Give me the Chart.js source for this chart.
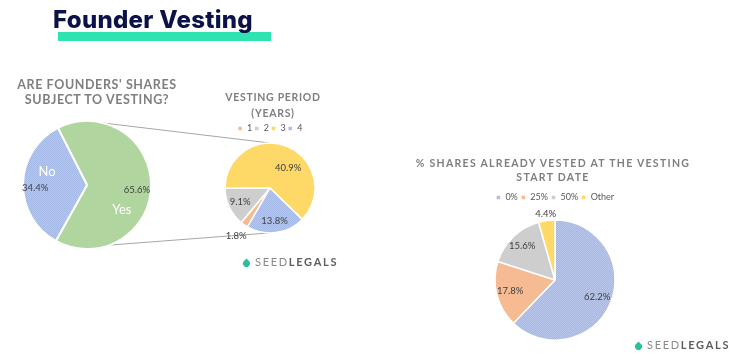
<!DOCTYPE html>
<html>
<head>
<meta charset="utf-8">
<script src="https://cdn.jsdelivr.net/npm/chart.js@4"></script>
<style>
  html, body { margin: 0; padding: 0; background: #fff; }
  #page { position: relative; width: 744px; height: 364px; overflow: hidden; font-family: Lato, "Open Sans", sans-serif; }
  canvas { position: absolute; }
  .bar { position: absolute; left: 58px; top: 32px; width: 213px; height: 9px; background: #2fe3b1; }
  .heading { position: absolute; left: 53px; top: 8px; font: 800 24px/24px Inter, sans-serif; color: #0c1248; letter-spacing: 0.3px; white-space: nowrap; }
  .ttl { position: absolute; text-align: center; font-weight: 700; color: #7f7f7f; white-space: nowrap; }
  .logo { position: absolute; font: 11px/12px Lato, sans-serif; letter-spacing: 1.7px; color: #8a8a8a; white-space: nowrap; }
  .logo b { color: #5e5e5e; font-weight: 700; }
  .drop { display: inline-block; width: 7px; height: 7px; background: #2bbf9c; border-radius: 0 50% 50% 50%; transform: rotate(45deg); margin-right: 5px; vertical-align: -1px; }
</style>
</head>
<body>
<div id="page">
  <canvas id="links" width="744" height="364" style="left:0;top:0"></canvas>
  <div class="bar"></div>
  <div class="heading">Founder Vesting</div>

  <div class="ttl" style="left:0;top:77px;width:194px;font-size:12.5px;line-height:15px;letter-spacing:0.6px">ARE FOUNDERS' SHARES<br>SUBJECT TO VESTING?</div>
  <div class="ttl" style="left:193px;top:89px;width:160px;font-size:10.5px;line-height:16px;letter-spacing:0.7px">VESTING PERIOD<br>(YEARS)</div>
  <div class="ttl" style="left:393px;top:156px;width:320px;font-size:10.5px;line-height:14px;letter-spacing:1.3px">% SHARES ALREADY VESTED AT THE VESTING<br>START DATE</div>

  <canvas id="subjectChart" width="160" height="150" style="left:7px;top:110px"></canvas>
  <canvas id="periodChart" width="150" height="150" style="left:195px;top:122px"></canvas>
  <canvas id="vestedChart" width="250" height="170" style="left:430px;top:190px"></canvas>

  <div class="logo" style="left:243px;top:256px"><span class="drop"></span>SEED<b>LEGALS</b></div>
  <div class="logo" style="left:635px;top:339px"><span class="drop"></span>SEED<b>LEGALS</b></div>
</div>
<script>
const subjectLabels = ['Yes', 'No'];
const subjectValues = [65.6, 34.4];

const periodLabels = ['1', '2', '3', '4'];
const periodValues = [1.8, 9.1, 40.9, 13.8];

const vestedLabels = ['0%', '25%', '50%', 'Other'];
const vestedValues = [62.2, 17.8, 15.6, 4.4];

// excel style dotted fill
function checker(a, b) {
  const c = document.createElement('canvas');
  c.width = c.height = 2;
  const g = c.getContext('2d');
  g.fillStyle = a; g.fillRect(0, 0, 2, 2);
  g.fillStyle = b; g.fillRect(0, 0, 1, 1); g.fillRect(1, 1, 1, 1);
  return g.createPattern(c, 'repeat');
}
const blue = checker('#a2b7e3', '#b9c8ec');
const orange = '#f6bb92';
const grey = '#cecece';
const yellow = '#ffd967';
const green = '#b0d59e';

const pieLabels = {
  id: 'pieLabels',
  afterDatasetsDraw(chart, args, opts) {
    const ctx = chart.ctx;
    const meta = chart.getDatasetMeta(0);
    const values = chart.data.datasets[0].data;
    ctx.save();
    ctx.textAlign = 'center';
    ctx.textBaseline = 'middle';
    meta.data.forEach((arc, i) => {
      const p = arc.getProps(['x', 'y', 'startAngle', 'endAngle', 'outerRadius'], true);
      const mid = (p.startAngle + p.endAngle) / 2;
      const nudge = (opts.nudge && opts.nudge[i]) || [0, 0];
      const lx = p.x + Math.cos(mid) * p.outerRadius * opts.dist[i] + nudge[0];
      const ly = p.y + Math.sin(mid) * p.outerRadius * opts.dist[i] + nudge[1];
      ctx.font = '9.5px Lato, sans-serif';
      ctx.fillStyle = '#404040';
      ctx.fillText(values[i].toFixed(1) + '%', lx, ly);
      if (opts.names) {
        ctx.font = '13px Lato, sans-serif';
        ctx.fillStyle = '#ffffff';
        ctx.fillText(chart.data.labels[i], lx + opts.names[i][0], ly + opts.names[i][1]);
      }
    });
    ctx.restore();
  }
};

function legendOpts(pad) {
  return {
    display: true,
    position: 'top',
    labels: {
      boxWidth: 5, boxHeight: 5, padding: pad,
      color: '#595959',
      font: { size: 9, family: 'Lato, sans-serif' }
    }
  };
}

const common = {
  responsive: false,
  animation: false,
  events: [],
  hoverOffset: 0
};

const subjectChart = new Chart(document.getElementById('subjectChart'), {
  type: 'pie',
  data: {
    labels: subjectLabels,
    datasets: [{ data: subjectValues, backgroundColor: [green, blue], borderColor: '#fff', borderWidth: 2 }]
  },
  options: Object.assign({}, common, {
    rotation: -27,
    radius: 64,
    plugins: {
      legend: { display: false },
      tooltip: { enabled: false },
      pieLabels: { dist: [0.78, 0.81], nudge: [[0, 4], [0, 4]], names: [[-15, 20], [12, -16]] }
    }
  }),
  plugins: [pieLabels]
});

const periodChart = new Chart(document.getElementById('periodChart'), {
  type: 'pie',
  data: {
    labels: periodLabels,
    datasets: [{ data: periodValues, backgroundColor: [orange, grey, yellow, blue], borderColor: '#fff', borderWidth: 1.5 }]
  },
  options: Object.assign({}, common, {
    rotation: 210,
    radius: 45,
    layout: { padding: { bottom: 39 } },
    plugins: {
      legend: legendOpts(2),
      tooltip: { enabled: false },
      pieLabels: { dist: [1.31, 0.73, 0.6, 0.74], nudge: [[0, 0], [0, 0], [8, 5], [0, 0]] }
    }
  }),
  plugins: [pieLabels]
});

const vestedChart = new Chart(document.getElementById('vestedChart'), {
  type: 'pie',
  data: {
    labels: vestedLabels,
    datasets: [{ data: vestedValues, backgroundColor: [blue, orange, grey, yellow], borderColor: '#fff', borderWidth: 1.5 }]
  },
  options: Object.assign({}, common, {
    rotation: 0,
    radius: 60,
    layout: { padding: { bottom: 12 } },
    plugins: {
      legend: legendOpts(3),
      tooltip: { enabled: false },
      pieLabels: { dist: [0.76, 0.77, 0.79, 1.12] }
    }
  }),
  plugins: [pieLabels]
});

// connector lines from the Yes slice to the breakdown pie
function edgePoint(chart, deg) {
  const arc = chart.getDatasetMeta(0).data[0];
  const a = (deg - 90) * Math.PI / 180;
  const el = chart.canvas;
  return [el.offsetLeft + arc.x + Math.cos(a) * arc.outerRadius, el.offsetTop + arc.y + Math.sin(a) * arc.outerRadius];
}
const lctx = document.getElementById('links').getContext('2d');
lctx.strokeStyle = '#a6a6a6';
lctx.lineWidth = 1;
[[14, 0], [160, 182]].forEach(([a, b]) => {
  const p = edgePoint(subjectChart, a);
  const q = edgePoint(periodChart, b);
  lctx.beginPath();
  lctx.moveTo(p[0], p[1]);
  lctx.lineTo(q[0], q[1]);
  lctx.stroke();
});
</script>
</body>
</html>
